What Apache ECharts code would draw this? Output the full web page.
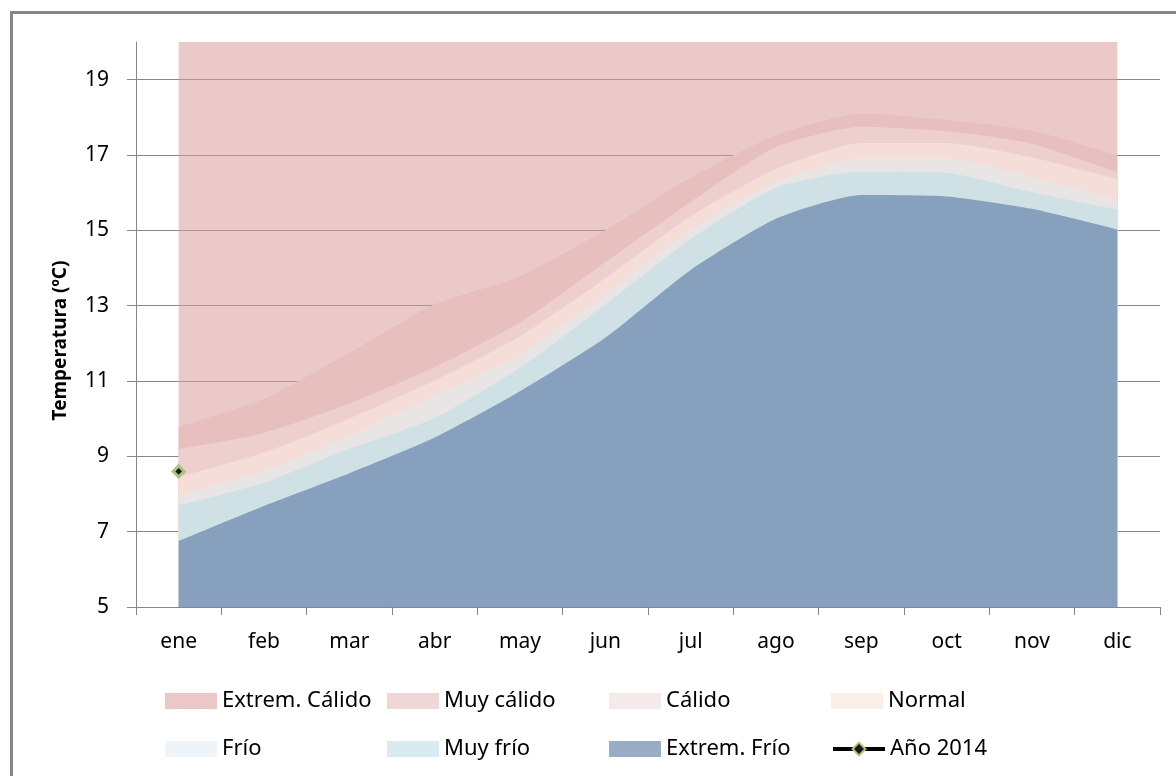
<!DOCTYPE html>
<html>
<head>
<meta charset="utf-8">
<script src="https://cdn.jsdelivr.net/npm/echarts@6/dist/echarts.min.js"></script>
<style>
  html, body { margin: 0; padding: 0; background: #fff; }
  #chart { width: 1176px; height: 776px; }
</style>
</head>
<body>
<div id="chart"></div>
<script>
// meses del eje X
const months = ['ene', 'feb', 'mar', 'abr', 'may', 'jun', 'jul', 'ago', 'sep', 'oct', 'nov', 'dic'];
// marcas del eje Y
const yTicks = [5, 7, 9, 11, 13, 15, 17, 19];

// límite superior de cada franja (ºC)
const extremCalido = [20, 20, 20, 20, 20, 20, 20, 20, 20, 20, 20, 20];
const muyCalido = [9.78, 10.53, 11.75, 13.03, 13.78, 15.0, 16.4, 17.52, 18.1, 17.93, 17.65, 16.99];
const calido = [9.19, 9.62, 10.4, 11.37, 12.55, 14.15, 15.75, 17.21, 17.75, 17.63, 17.3, 16.54];
const normal = [8.45, 9.1, 10.0, 11.02, 12.19, 13.73, 15.38, 16.63, 17.32, 17.32, 16.94, 16.35];
const frio = [7.97, 8.62, 9.54, 10.62, 11.69, 13.3, 15.01, 16.28, 16.93, 16.92, 16.41, 15.81];
const muyFrio = [7.7, 8.3, 9.2, 10.02, 11.35, 13.03, 14.77, 16.13, 16.56, 16.53, 16.01, 15.55];
const extremFrio = [6.75, 7.68, 8.55, 9.5, 10.73, 12.15, 13.95, 15.31, 15.94, 15.9, 15.57, 15.02];
// año 2014 (solo enero)
const ano2014 = [8.6, null, null, null, null, null, null, null, null, null, null, null];

// leyenda: nombre y color del icono
const legendNames = ['Extrem. Cálido', 'Muy cálido', 'Cálido', 'Normal', 'Frío', 'Muy frío', 'Extrem. Frío', 'Año 2014'];
const legendColors = ['#ebc7c7', '#f0d7d7', '#f5eaea', '#fcefe6', '#eef5f8', '#d8ebf1', '#9aadc6', null];

const chart = echarts.init(document.getElementById('chart'));
const FONT = '"Noto Sans", sans-serif';

// franja: área desde el mínimo del eje hasta el valor
function band(name, data, color) {
  return {
    name: name,
    type: 'line',
    data: data,
    smooth: 0.2,
    symbol: 'none',
    lineStyle: { width: 0 },
    itemStyle: { color: color },
    areaStyle: { color: color, opacity: 1, origin: 'start' },
    emphasis: { disabled: true },
    silent: true
  };
}

// una leyenda por elemento, en 2 filas de 4
const legends = legendNames.map((name, i) => {
  const item = legendColors[i]
    ? { name: name, icon: 'rect', itemStyle: { color: legendColors[i] } }
    : { name: name, lineStyle: { color: '#000', width: 4 } };
  return {
    left: 165 + (i % 4) * 222,
    top: i < 4 ? 690 : 738,
    padding: 0,
    itemWidth: 52,
    itemHeight: 16,
    selectedMode: false,
    textStyle: { fontFamily: FONT, fontSize: 22, color: '#000' },
    data: [item]
  };
});

const option = {
  animation: false,
  textStyle: { fontFamily: FONT },
  graphic: [{
    type: 'rect',
    shape: { x: 11.5, y: 12.5, width: 1200, height: 800 },
    style: { fill: 'none', stroke: '#868686', lineWidth: 3 }
  }],
  grid: { left: 136, right: 16, top: 42, bottom: 169 },
  legend: legends,
  xAxis: {
    type: 'category',
    data: months,
    boundaryGap: true,
    axisLine: { lineStyle: { color: '#868686', width: 1 } },
    axisTick: { show: true, length: 8, lineStyle: { color: '#868686' } },
    axisLabel: { color: '#000', fontSize: 21, fontFamily: FONT, margin: 25 },
    splitLine: { show: false },
    z: 5
  },
  yAxis: {
    type: 'value',
    min: 5,
    max: 20,
    interval: 2,
    name: 'Temperatura (ºC)',
    nameLocation: 'middle',
    nameGap: 66,
    nameTextStyle: { color: '#000', fontSize: 19, fontWeight: 'bold', fontFamily: FONT, padding: [0, 32, 0, 0] },
    axisLine: { show: true, lineStyle: { color: '#868686', width: 1 } },
    axisTick: { show: true, length: 9, customValues: yTicks, lineStyle: { color: '#868686' } },
    axisLabel: { color: '#000', fontSize: 21, fontFamily: FONT, margin: 27, customValues: yTicks },
    splitLine: { show: true, lineStyle: { color: '#868686', width: 1 } }
  },
  series: [
    {
      name: 'Extrem. Cálido',
      type: 'line',
      data: extremCalido,
      symbol: 'none',
      lineStyle: { width: 0 },
      itemStyle: { color: '#ebc7c7' },
      // algo transparente para que se vean las líneas de la cuadrícula
      areaStyle: { color: 'rgba(220,157,157,0.55)', opacity: 1, origin: 'start' },
      silent: true
    },
    band('Muy cálido', muyCalido, '#e8bfbf'),
    band('Cálido', calido, '#eecfcf'),
    band('Normal', normal, '#f5ddd8'),
    band('Frío', frio, '#e9e5e5'),
    band('Muy frío', muyFrio, '#d0e1e6'),
    band('Extrem. Frío', extremFrio, '#86a0bd'),
    {
      name: 'Año 2014',
      type: 'line',
      data: ano2014,
      symbol: 'diamond',
      symbolSize: 11,
      showSymbol: true,
      lineStyle: { color: '#000', width: 3 },
      itemStyle: { color: '#1a1a1a', borderColor: '#a9c47f', borderWidth: 3 },
      z: 10
    }
  ]
};

chart.setOption(option);
window.addEventListener('resize', chart.resize);
</script>
</body>
</html>
